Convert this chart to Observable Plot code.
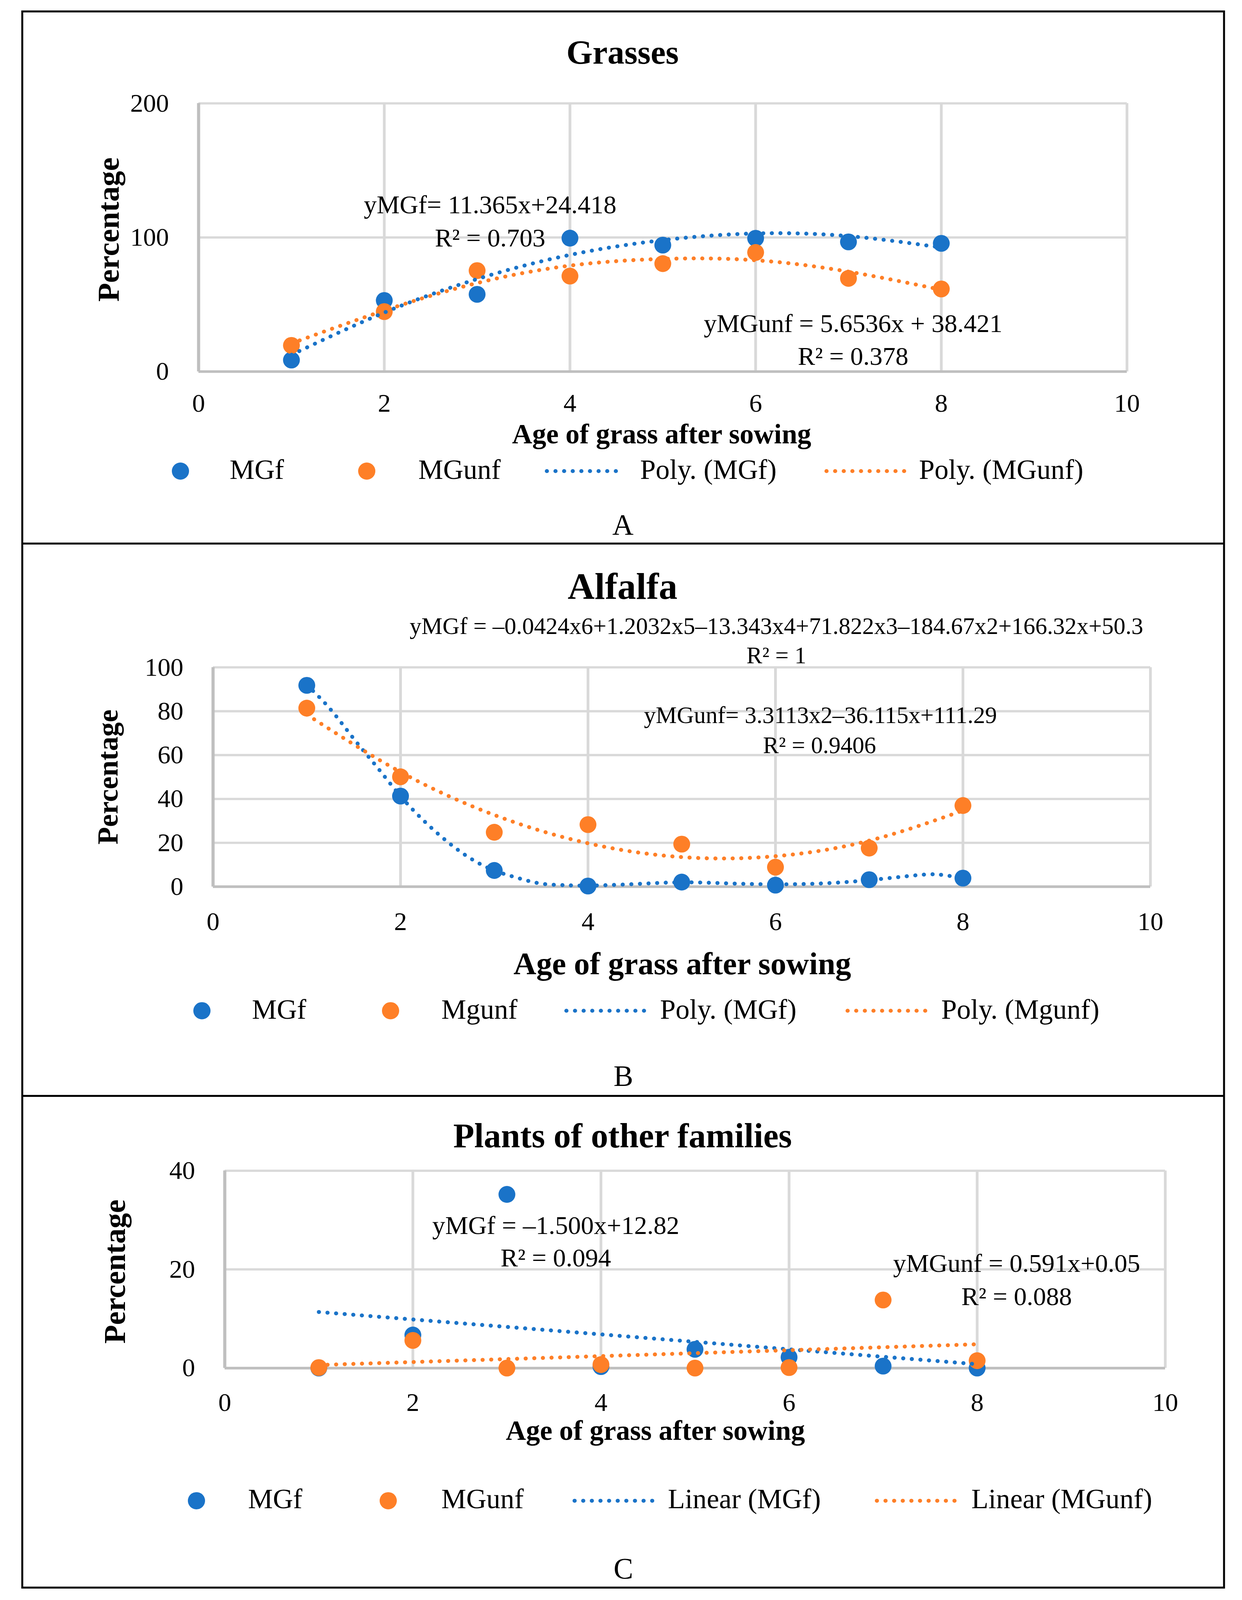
<!DOCTYPE html>
<html><head><meta charset="utf-8">
<script src="https://cdn.jsdelivr.net/npm/d3@7"></script>
<script src="https://cdn.jsdelivr.net/npm/@observablehq/plot@0.6"></script>
<style>
html,body{margin:0;padding:0;background:#fff;overflow:hidden;}
#page{position:relative;width:3180px;background:#fff;overflow:hidden;}
.panel{position:absolute;left:0;}
#overlay{position:absolute;left:0;top:0;}
</style></head><body><div id="page"></div>
<script>
// ---------- data ----------
const ages = [1, 2, 3, 4, 5, 6, 7, 8];
const xTicks = [0, 2, 4, 6, 8, 10];

// A: Grasses
const grassYTicks = [0, 100, 200];
const grassMGf = [8.6, 53, 57.6, 99.5, 94.3, 99.4, 96.7, 95.6];
const grassMGunf = [19.5, 44.7, 75.3, 71.2, 80.5, 88.8, 69.5, 61.6];
const grassMGfTrend = [12.5, 44, 69, 87, 98, 103, 101, 92.5];
const grassMGunfTrend = [21, 45.5, 66, 79, 84, 83, 74.5, 61];

// B: Alfalfa
const alfYTicks = [0, 20, 40, 60, 80, 100];
const alfMGf = [91.8, 41.3, 7.4, 0.3, 2.1, 0.7, 3.2, 3.9];
const alfMGunf = [81.4, 50.1, 24.8, 28.3, 19.4, 8.9, 17.6, 37];
const alfTrendAges = [1, 1.25, 1.5, 1.75, 2, 2.25, 2.5, 2.75, 3, 3.25, 3.5, 3.75, 4, 4.5, 5, 5.5, 6, 6.5, 7, 7.5, 7.75, 8];
const alfMGfTrend = [92, 81, 67.5, 54.5, 41.3, 30, 20.5, 12.8, 7.4, 4, 1.4, 0.7, 0.5, 1.2, 2.0, 1.5, 1.1, 1.5, 3.0, 5.2, 5.5, 3.9];
const alfMGunfTrend = [78.5, 52.3, 32.7, 19.8, 13.5, 13.9, 21.0, 34.7];

// C: Plants of other families
const othYTicks = [0, 20, 40];
const othMGf = [0, 6.7, 35.2, 0.3, 3.8, 2.2, 0.4, 0];
const othMGunf = [0.1, 5.6, 0, 0.7, 0, 0.1, 13.8, 1.5];

// ---------- layout: reference is 3180x4901, the window shows 4096 px of height ----------
const W = 3180, REF_H = 4901;
const H = Math.min(REF_H, window.innerHeight || REF_H);
const KY = H / REF_H;              // vertical squeeze so the whole figure is visible
const KF = 0.5 + 0.5 * KY;         // font compromise between full width and squeezed height
const sy = v => v * KY;
document.getElementById("page").style.height = H + "px";

// ---------- style ----------
const BLUE = "#1a73c8", ORANGE = "#fe7f27";
const FONT = "'Liberation Serif', 'Times New Roman', serif";
const GRID = "#d9d9d9", AXIS = "#bfbfbf";
const DOT_R = 23.5 * KF;
const DOTTED = {strokeWidth: 11 * KF, strokeDasharray: `0.5,${23.5 * KF}`, strokeLinecap: "round"};
const fmt = d => String(d);
const pts = (xs, ys) => xs.map((x, i) => ({x, y: ys[i]}));

function panel(cfg) {
  const fsTick = 72 * KF;
  const marks = [
    Plot.gridX(xTicks, {stroke: GRID, strokeOpacity: 1, strokeWidth: 7}),
    Plot.gridY(cfg.yTicks, {stroke: GRID, strokeOpacity: 1, strokeWidth: 7 * KY}),
    Plot.ruleX([xTicks[0]], {stroke: AXIS, strokeWidth: 8}),
    Plot.ruleY([cfg.yTicks[0]], {stroke: AXIS, strokeWidth: 8 * KY}),
    Plot.axisX(xTicks, {tickSize: 0, tickPadding: sy(cfg.tpx + 51) - 0.71 * fsTick, fontSize: fsTick, label: null, tickFormat: fmt}),
    Plot.axisY(cfg.yTicks, {tickSize: 0, tickPadding: 76, fontSize: fsTick, label: null, tickFormat: fmt}),
    Plot.dot(pts(ages, cfg.mgf), {x: "x", y: "y", r: DOT_R, fill: BLUE}),
    Plot.dot(pts(ages, cfg.mgunf), {x: "x", y: "y", r: DOT_R, fill: ORANGE}),
    ...cfg.trends,
    ...cfg.notes.map(n => Plot.text([n.text], {x: n.x, y: n.y, text: d => d, fontSize: cfg.noteSize * KF,
      textAnchor: "middle", lineAnchor: "bottom", fill: "#000"}))
  ];
  const svg = Plot.plot({
    width: W, height: Math.round(sy(cfg.height)),
    marginLeft: cfg.ml, marginRight: cfg.mr, marginTop: sy(cfg.mt), marginBottom: sy(cfg.mb),
    style: {background: "transparent", fontFamily: FONT, fontSize: fsTick + "px", color: "#000", overflow: "visible", maxWidth: "none"},
    x: {domain: [0, 10], label: null},
    y: {domain: [cfg.yTicks[0], cfg.yTicks[cfg.yTicks.length - 1]], label: null},
    marks
  });
  const div = document.createElement("div");
  div.className = "panel";
  div.style.top = sy(cfg.top) + "px";
  div.appendChild(svg);
  document.getElementById("page").appendChild(div);
}

// Panel A
panel({
  top: 0, height: 1665, ml: 508, mr: 295, mt: 316, mb: 528, tpx: 72,
  yTicks: grassYTicks, mgf: grassMGf, mgunf: grassMGunf, noteSize: 72,
  trends: [
    Plot.line(pts(ages, grassMGfTrend), {x: "x", y: "y", stroke: BLUE, curve: "natural", ...DOTTED}),
    Plot.line(pts(ages, grassMGunfTrend), {x: "x", y: "y", stroke: ORANGE, curve: "natural", ...DOTTED})
  ],
  notes: [
    {text: "yMGf= 11.365x+24.418", x: 3.14, y: 117.9},
    {text: "R² = 0.703", x: 3.14, y: 93.3},
    {text: "yMGunf = 5.6536x + 38.421", x: 7.05, y: 29.5},
    {text: "R² = 0.378", x: 7.05, y: 5.1}
  ]
});

// Panel B
panel({
  top: 1665, height: 1692, ml: 545, mr: 235, mt: 378, mb: 642, tpx: 82,
  yTicks: alfYTicks, mgf: alfMGf, mgunf: alfMGunf, noteSize: 66,
  trends: [
    Plot.line(pts(alfTrendAges, alfMGfTrend), {x: "x", y: "y", stroke: BLUE, curve: "natural", ...DOTTED}),
    Plot.line(pts(ages, alfMGunfTrend), {x: "x", y: "y", stroke: ORANGE, curve: "natural", ...DOTTED})
  ],
  notes: [
    {text: "yMGf = –0.0424x6+1.2032x5–13.343x4+71.822x3–184.67x2+166.32x+50.3", x: 6.01, y: 115.2},
    {text: "R² = 1", x: 6.01, y: 101.9},
    {text: "yMGunf= 3.3113x2–36.115x+111.29", x: 6.48, y: 74.6},
    {text: "R² = 0.9406", x: 6.47, y: 60.9}
  ]
});

// Panel C
panel({
  top: 3357, height: 1544, ml: 575, mr: 197, mt: 228, mb: 711, tpx: 80,
  yTicks: othYTicks, mgf: othMGf, mgunf: othMGunf, noteSize: 72,
  trends: [
    Plot.linearRegressionY(pts(ages, othMGf), {x: "x", y: "y", stroke: BLUE, ci: 0, ...DOTTED}),
    Plot.linearRegressionY(pts(ages, othMGunf), {x: "x", y: "y", stroke: ORANGE, ci: 0, ...DOTTED})
  ],
  notes: [
    {text: "yMGf = –1.500x+12.82", x: 3.52, y: 27.2},
    {text: "R² = 0.094", x: 3.52, y: 20.6},
    {text: "yMGunf = 0.591x+0.05", x: 8.42, y: 19.5},
    {text: "R² = 0.088", x: 8.42, y: 12.8}
  ]
});

// ---------- overlay: frame, titles, labels, legends ----------
const ov = d3.select("#page").append("svg").attr("id", "overlay")
  .attr("width", W).attr("height", H)
  .style("font-family", FONT);

ov.append("rect").attr("x", 57).attr("y", sy(35)).attr("width", 3077).attr("height", sy(4828))
  .attr("fill", "none").attr("stroke", "#000").attr("stroke-width", 5);
[1665, 3357].forEach(y => ov.append("line").attr("x1", 57).attr("x2", 3134).attr("y1", sy(y)).attr("y2", sy(y))
  .attr("stroke", "#000").attr("stroke-width", 5));

function txt(t, x, y, size, opts = {}) {
  const e = ov.append("text").attr("x", x).attr("y", sy(y)).attr("font-size", size * (opts.k || KF))
    .attr("text-anchor", opts.anchor || "middle").attr("fill", "#000").text(t);
  if (opts.bold) e.attr("font-weight", "bold");
  if (opts.rotate) e.attr("x", 0).attr("y", 0).attr("transform", `translate(${x},${sy(y)}) rotate(-90)`);
  return e;
}

// titles
txt("Grasses", 1594, 195, 94, {bold: true});
txt("Alfalfa", 1594, 1834, 104, {bold: true});
txt("Plants of other families", 1594, 3514, 96, {bold: true});

// x labels
txt("Age of grass after sowing", 1694, 1358, 78, {bold: true});
txt("Age of grass after sowing", 1747, 2984, 88, {bold: true});
txt("Age of grass after sowing", 1678, 4410, 78, {bold: true});

// y labels (their length runs vertically, so they follow the vertical squeeze)
txt("Percentage", 304, 703, 94, {bold: true, rotate: true, k: KY});
txt("Percentage", 301, 2380, 88, {bold: true, rotate: true, k: KY});
txt("Percentage", 320, 3895, 94, {bold: true, rotate: true, k: KY});

// panel letters
txt("A", 1595, 1638, 82);
txt("B", 1596, 3326, 82);
txt("C", 1596, 4835, 82);

// legends
function legend(cy, base, items) {
  items.forEach(it => {
    if (it.dot) ov.append("circle").attr("cx", it.dot).attr("cy", sy(cy)).attr("r", 24 * KF).attr("fill", it.color);
    if (it.line) ov.append("line").attr("x1", it.line[0]).attr("x2", it.line[1]).attr("y1", sy(cy)).attr("y2", sy(cy))
      .attr("stroke", it.color).attr("stroke-width", DOTTED.strokeWidth).attr("stroke-dasharray", DOTTED.strokeDasharray).attr("stroke-linecap", "round");
    if (it.text) txt(it.text, it.tx, base, 78, {anchor: "start"});
  });
}
legend(1443, 1467, [
  {dot: 462, color: BLUE}, {text: "MGf", tx: 588},
  {dot: 939, color: ORANGE}, {text: "MGunf", tx: 1071},
  {line: [1400, 1592], color: BLUE}, {text: "Poly. (MGf)", tx: 1639},
  {line: [2116, 2329], color: ORANGE}, {text: "Poly. (MGunf)", tx: 2353}
]);
legend(3096, 3120, [
  {dot: 517, color: BLUE}, {text: "MGf", tx: 645},
  {dot: 1000, color: ORANGE}, {text: "Mgunf", tx: 1130},
  {line: [1450, 1663], color: BLUE}, {text: "Poly. (MGf)", tx: 1690},
  {line: [2170, 2383], color: ORANGE}, {text: "Poly. (Mgunf)", tx: 2410}
]);
legend(4597, 4620, [
  {dot: 503, color: BLUE}, {text: "MGf", tx: 635},
  {dot: 994, color: ORANGE}, {text: "MGunf", tx: 1130},
  {line: [1471, 1680], color: BLUE}, {text: "Linear (MGf)", tx: 1710},
  {line: [2245, 2458], color: ORANGE}, {text: "Linear (MGunf)", tx: 2487}
]);
</script></body></html>
